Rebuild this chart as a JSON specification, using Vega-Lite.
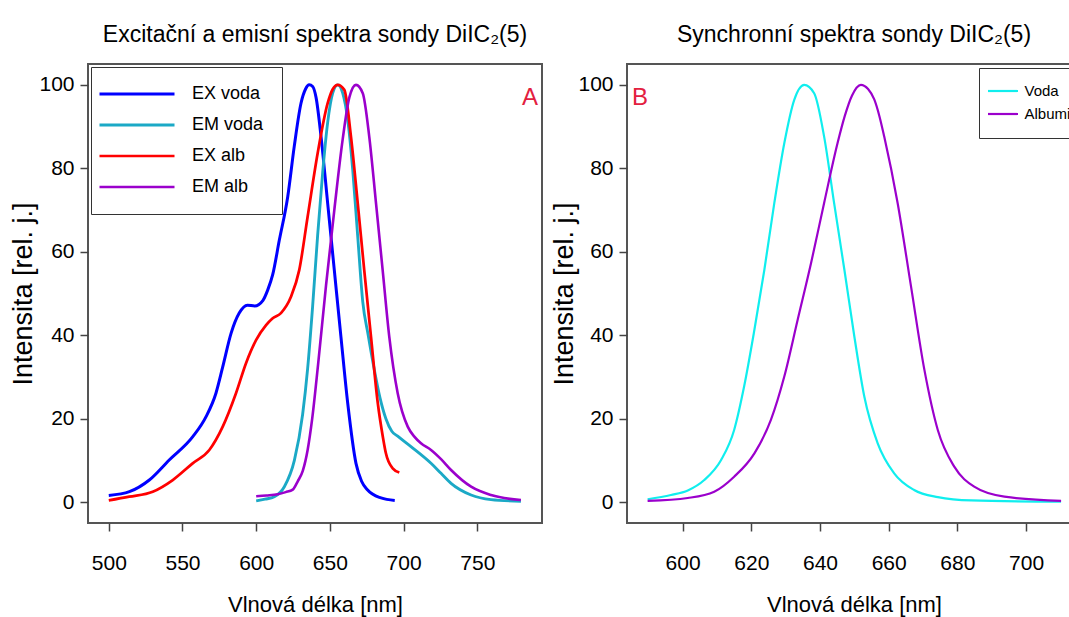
{
  "$schema": "https://vega.github.io/schema/vega-lite/v6.json",
  "background": "white",
  "padding": {"left": 8, "top": 23, "right": 0, "bottom": 12},
  "bounds": "flush",
  "spacing": 85,
  "config": {
    "view": {"stroke": "#555", "strokeWidth": 2},
    "axis": {"grid": false, "domain": false, "tickColor": "#444", "tickWidth": 1.5, "tickSize": 8,
      "labelFont": "Liberation Sans", "labelFontSize": 21, "labelColor": "#000",
      "titleFont": "Liberation Sans", "titleFontSize": 22, "titleFontWeight": "normal", "titleColor": "#000"},
    "title": {"font": "Liberation Sans", "fontSize": 23, "fontWeight": "normal", "color": "#000", "anchor": "middle", "frame": "group", "baseline": "alphabetic", "offset": 17},
    "legend": {"title": null, "labelFont": "Liberation Sans", "labelColor": "#000", "strokeColor": "#333", "fillColor": "white"}
  },
  "datasets": {
    "left": [
      {"s":"EX voda","nm":500,"v":1.6},{"s":"EX voda","nm":514,"v":2.5},{"s":"EX voda","nm":527.5,"v":5.3},{"s":"EX voda","nm":541,"v":10.1},{"s":"EX voda","nm":557,"v":15.7},{"s":"EX voda","nm":566,"v":20.5},{"s":"EX voda","nm":572.7,"v":26.1},{"s":"EX voda","nm":577.3,"v":32.4},{"s":"EX voda","nm":583,"v":40.5},{"s":"EX voda","nm":588.5,"v":45.3},{"s":"EX voda","nm":594,"v":47.2},{"s":"EX voda","nm":599,"v":47.0},{"s":"EX voda","nm":604.5,"v":48.3},{"s":"EX voda","nm":607.8,"v":50.8},{"s":"EX voda","nm":611.2,"v":54.5},{"s":"EX voda","nm":615.7,"v":62.8},{"s":"EX voda","nm":621.4,"v":73.2},{"s":"EX voda","nm":625.8,"v":85.2},{"s":"EX voda","nm":630.4,"v":95.6},{"s":"EX voda","nm":633.5,"v":99},{"s":"EX voda","nm":636,"v":100},{"s":"EX voda","nm":638.3,"v":99.6},{"s":"EX voda","nm":640.6,"v":97},{"s":"EX voda","nm":644,"v":87.6},{"s":"EX voda","nm":648.5,"v":71.6},{"s":"EX voda","nm":653,"v":55.6},{"s":"EX voda","nm":657.5,"v":39.6},{"s":"EX voda","nm":662.1,"v":23.7},{"s":"EX voda","nm":667.7,"v":9.3},{"s":"EX voda","nm":671.5,"v":5},{"s":"EX voda","nm":675.6,"v":2.9},{"s":"EX voda","nm":684.7,"v":1},{"s":"EX voda","nm":694,"v":0.4},
      {"s":"EM voda","nm":600,"v":0.3},{"s":"EM voda","nm":606,"v":0.7},{"s":"EM voda","nm":612.3,"v":1.3},{"s":"EM voda","nm":619.1,"v":3.7},{"s":"EM voda","nm":625.9,"v":10},{"s":"EM voda","nm":631.5,"v":21},{"s":"EM voda","nm":634.9,"v":32},{"s":"EM voda","nm":638.3,"v":47},{"s":"EM voda","nm":641.7,"v":64},{"s":"EM voda","nm":645.1,"v":79},{"s":"EM voda","nm":648.5,"v":91},{"s":"EM voda","nm":651.9,"v":98},{"s":"EM voda","nm":655.3,"v":100},{"s":"EM voda","nm":658.7,"v":98},{"s":"EM voda","nm":662.1,"v":91.6},{"s":"EM voda","nm":665.5,"v":79.6},{"s":"EM voda","nm":668.9,"v":63.6},{"s":"EM voda","nm":672.3,"v":48},{"s":"EM voda","nm":676,"v":40},{"s":"EM voda","nm":680,"v":32},{"s":"EM voda","nm":684,"v":25},{"s":"EM voda","nm":688,"v":20},{"s":"EM voda","nm":692,"v":17},{"s":"EM voda","nm":696,"v":15.8},{"s":"EM voda","nm":705,"v":13.3},{"s":"EM voda","nm":718.6,"v":9.3},{"s":"EM voda","nm":725.4,"v":6.9},{"s":"EM voda","nm":732.2,"v":4.5},{"s":"EM voda","nm":745.8,"v":1.7},{"s":"EM voda","nm":759.3,"v":0.6},{"s":"EM voda","nm":779.6,"v":0.2},
      {"s":"EX alb","nm":500,"v":0.4},{"s":"EX alb","nm":513.9,"v":1.3},{"s":"EX alb","nm":529.8,"v":2.5},{"s":"EX alb","nm":543.4,"v":5.3},{"s":"EX alb","nm":556.9,"v":9.3},{"s":"EX alb","nm":568.2,"v":12.5},{"s":"EX alb","nm":577.3,"v":18.1},{"s":"EX alb","nm":586.3,"v":26.1},{"s":"EX alb","nm":593.1,"v":33.3},{"s":"EX alb","nm":599.9,"v":38.8},{"s":"EX alb","nm":606.7,"v":42.4},{"s":"EX alb","nm":611,"v":44},{"s":"EX alb","nm":616.8,"v":45.3},{"s":"EX alb","nm":623.6,"v":49.2},{"s":"EX alb","nm":629.2,"v":55.6},{"s":"EX alb","nm":634.9,"v":68.4},{"s":"EX alb","nm":641.7,"v":83.6},{"s":"EX alb","nm":648.5,"v":95.6},{"s":"EX alb","nm":652,"v":99},{"s":"EX alb","nm":655.3,"v":100},{"s":"EX alb","nm":659.8,"v":98.8},{"s":"EX alb","nm":664.3,"v":87.6},{"s":"EX alb","nm":668.9,"v":71.6},{"s":"EX alb","nm":673.3,"v":55.6},{"s":"EX alb","nm":677.9,"v":39.6},{"s":"EX alb","nm":682.4,"v":24},{"s":"EX alb","nm":686,"v":15.5},{"s":"EX alb","nm":688,"v":11.7},{"s":"EX alb","nm":692.6,"v":8.1},{"s":"EX alb","nm":697.1,"v":7.1},
      {"s":"EM alb","nm":600,"v":1.4},{"s":"EM alb","nm":607,"v":1.6},{"s":"EM alb","nm":614.6,"v":1.9},{"s":"EM alb","nm":620,"v":2.4},{"s":"EM alb","nm":624.8,"v":3},{"s":"EM alb","nm":628.2,"v":5},{"s":"EM alb","nm":631.6,"v":7.5},{"s":"EM alb","nm":634.9,"v":12.5},{"s":"EM alb","nm":638,"v":20},{"s":"EM alb","nm":642,"v":33},{"s":"EM alb","nm":647.4,"v":52},{"s":"EM alb","nm":653,"v":70},{"s":"EM alb","nm":658.7,"v":87},{"s":"EM alb","nm":663.2,"v":97},{"s":"EM alb","nm":667.7,"v":100},{"s":"EM alb","nm":672.3,"v":98},{"s":"EM alb","nm":676.7,"v":87.6},{"s":"EM alb","nm":681.3,"v":71.6},{"s":"EM alb","nm":685.8,"v":55.6},{"s":"EM alb","nm":690.3,"v":39.6},{"s":"EM alb","nm":696,"v":26.1},{"s":"EM alb","nm":702.8,"v":18.1},{"s":"EM alb","nm":707.3,"v":15.7},{"s":"EM alb","nm":711.8,"v":14.1},{"s":"EM alb","nm":718.6,"v":12.5},{"s":"EM alb","nm":725.4,"v":10.3},{"s":"EM alb","nm":732.2,"v":7.7},{"s":"EM alb","nm":745.8,"v":3.7},{"s":"EM alb","nm":759.3,"v":1.7},{"s":"EM alb","nm":779.6,"v":0.5}
    ],
    "right": [
      {"s":"Voda","nm":589.8,"v":0.7},{"s":"Voda","nm":596.6,"v":1.7},{"s":"Voda","nm":601.5,"v":2.8},{"s":"Voda","nm":606.3,"v":5.3},{"s":"Voda","nm":611.2,"v":10.1},{"s":"Voda","nm":615,"v":17.3},{"s":"Voda","nm":617.9,"v":27.7},{"s":"Voda","nm":620.9,"v":41.3},{"s":"Voda","nm":623.8,"v":55.7},{"s":"Voda","nm":626.7,"v":71.7},{"s":"Voda","nm":629.6,"v":86},{"s":"Voda","nm":632.5,"v":96.4},{"s":"Voda","nm":635.4,"v":100},{"s":"Voda","nm":638.3,"v":98},{"s":"Voda","nm":641.2,"v":87.6},{"s":"Voda","nm":644.1,"v":71.7},{"s":"Voda","nm":647.1,"v":55.7},{"s":"Voda","nm":650,"v":39.7},{"s":"Voda","nm":652.9,"v":25.3},{"s":"Voda","nm":656.8,"v":14.1},{"s":"Voda","nm":661.6,"v":6.9},{"s":"Voda","nm":667.4,"v":2.9},{"s":"Voda","nm":674.3,"v":1.2},{"s":"Voda","nm":684,"v":0.4},{"s":"Voda","nm":710.2,"v":0.1},
      {"s":"Albumin","nm":589.8,"v":0.3},{"s":"Albumin","nm":601.5,"v":1},{"s":"Albumin","nm":609.2,"v":2.5},{"s":"Albumin","nm":615,"v":6.1},{"s":"Albumin","nm":620.9,"v":11.7},{"s":"Albumin","nm":625.7,"v":19.7},{"s":"Albumin","nm":629.6,"v":30.1},{"s":"Albumin","nm":633.5,"v":43.7},{"s":"Albumin","nm":637.4,"v":57.3},{"s":"Albumin","nm":641.2,"v":71.7},{"s":"Albumin","nm":645.1,"v":86},{"s":"Albumin","nm":647.2,"v":92.5},{"s":"Albumin","nm":649.3,"v":97.4},{"s":"Albumin","nm":651.9,"v":100},{"s":"Albumin","nm":654,"v":99},{"s":"Albumin","nm":655.8,"v":96.5},{"s":"Albumin","nm":657.3,"v":92.5},{"s":"Albumin","nm":658.7,"v":87.6},{"s":"Albumin","nm":662.6,"v":71.7},{"s":"Albumin","nm":666.5,"v":51.7},{"s":"Albumin","nm":670.4,"v":31.7},{"s":"Albumin","nm":674.3,"v":17.3},{"s":"Albumin","nm":679.1,"v":8.5},{"s":"Albumin","nm":684.9,"v":3.7},{"s":"Albumin","nm":693.7,"v":1.3},{"s":"Albumin","nm":710.2,"v":0.3}
    ]
  },
  "hconcat": [
    {
      "width": 454, "height": 459,
      "title": "Excitační a emisní spektra sondy DiIC₂(5)",
      "layer": [
        {
          "data": {"name": "left"},
          "mark": {"type": "line", "interpolate": "monotone"},
          "encoding": {
            "x": {"field": "nm", "type": "quantitative", "scale": {"domain": [485.9, 793.9], "nice": false, "zero": false},
              "axis": {"values": [500,550,600,650,700,750], "title": "Vlnová délka [nm]", "labelPadding": 21, "titleY": 88, "titleBaseline": "alphabetic"}},
            "y": {"field": "v", "type": "quantitative", "scale": {"domain": [-5, 105], "nice": false, "zero": false},
              "axis": {"values": [0,20,40,60,80,100], "title": "Intensita [rel. j.]", "titleFontSize": 27, "labelPadding": 6, "titleX": -65, "titleBaseline": "middle"}},
            "color": {"field": "s", "type": "nominal",
              "scale": {"domain": ["EX voda","EM voda","EX alb","EM alb"], "range": ["#0000ff","#1ba9c6","#ff0000","#9b00cc"]},
              "legend": {"orient": "none", "legendX": 3, "legendY": 3, "symbolType": "M-7.5,0H7.5", "symbolSize": 100, "symbolStrokeWidth": 2.5, "symbolOffset": 19, "labelOffset": 46, "labelFontSize": 18, "padding": 18, "rowPadding": 13}},
            "strokeWidth": {"field": "s", "type": "nominal", "scale": {"domain": ["EX voda","EM voda","EX alb","EM alb"], "range": [3, 2.6, 2, 2]}, "legend": null}
          }
        },
        {
          "data": {"values": [{}]},
          "mark": {"type": "text", "text": "A", "font": "Liberation Sans", "fontSize": 24, "color": "#e3203f", "align": "center", "baseline": "alphabetic"},
          "encoding": {"x": {"datum": 785.8}, "y": {"datum": 95.2}}
        }
      ]
    },
    {
      "width": 454, "height": 459,
      "title": "Synchronní spektra sondy DiIC₂(5)",
      "layer": [
        {
          "data": {"name": "right"},
          "mark": {"type": "line", "interpolate": "monotone", "strokeWidth": 2.2},
          "encoding": {
            "x": {"field": "nm", "type": "quantitative", "scale": {"domain": [583.8, 716], "nice": false, "zero": false},
              "axis": {"values": [600,620,640,660,680,700], "title": "Vlnová délka [nm]", "labelPadding": 21, "titleY": 88, "titleBaseline": "alphabetic"}},
            "y": {"field": "v", "type": "quantitative", "scale": {"domain": [-5, 105], "nice": false, "zero": false},
              "axis": {"values": [0,20,40,60,80,100], "title": "Intensita [rel. j.]", "titleFontSize": 27, "labelPadding": 6, "titleX": -63, "titleBaseline": "middle"}},
            "color": {"field": "s", "type": "nominal",
              "scale": {"domain": ["Voda","Albumin"], "range": ["#10eeee","#9b00cc"]},
              "legend": {"orient": "none", "legendX": 352, "legendY": 4, "symbolType": "M-3,0H3", "symbolSize": 100, "symbolStrokeWidth": 2.2, "symbolOffset": 1, "labelOffset": 14, "labelFontSize": 15, "padding": 15.5, "rowPadding": 7}}
          }
        },
        {
          "data": {"values": [{}]},
          "mark": {"type": "text", "text": "B", "font": "Liberation Sans", "fontSize": 24, "color": "#e3203f", "align": "center", "baseline": "alphabetic"},
          "encoding": {"x": {"datum": 587.6}, "y": {"datum": 95.2}}
        }
      ]
    }
  ],
  "resolve": {"scale": {"color": "independent", "strokeWidth": "independent"}, "legend": {"color": "independent"}}
}
